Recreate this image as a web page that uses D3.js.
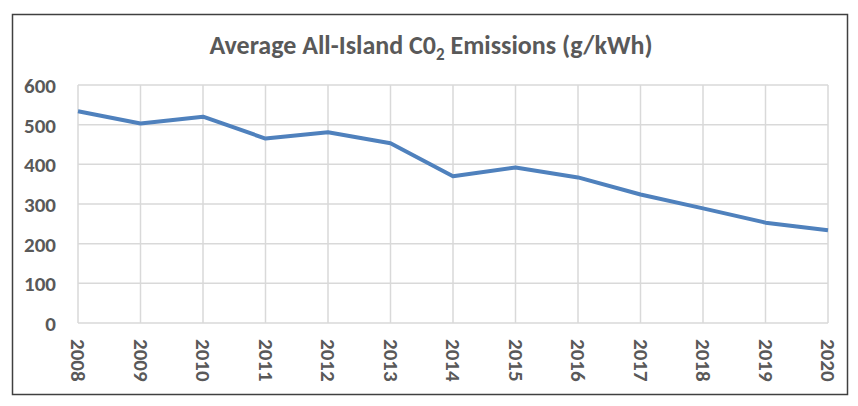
<!DOCTYPE html>
<html><head><meta charset="utf-8">
<script src="https://cdn.jsdelivr.net/npm/d3@7"></script>
<style>body{margin:0;background:#fff}svg{display:block}</style>
</head><body>
<svg id="c" width="858" height="406"></svg>
<script>
const years = ["2008","2009","2010","2011","2012","2013","2014","2015","2016","2017","2018","2019","2020"];
const emissions = [534, 503, 520, 465, 481, 453, 370, 392, 367, 324, 289, 253, 234];
const yTicks = [0, 100, 200, 300, 400, 500, 600];

const svg = d3.select("#c");
const W = 858, H = 406;
const m = {left: 78, right: 30, top: 85, bottom: 83};
const font = "Calibri, Carlito, 'Open Sans', sans-serif";
const txt = "#595959";

svg.append("rect").attr("x", 12.5).attr("y", 14.5).attr("width", 835).attr("height", 380)
  .attr("fill", "#fff").attr("stroke", "#404040").attr("stroke-width", 1.5);

const x = d3.scalePoint().domain(years).range([m.left, W - m.right]);
const y = d3.scaleLinear().domain([0, 600]).range([H - m.bottom, m.top]);

// gridlines
const g = svg.append("g");
g.selectAll(".hg").data(yTicks).join("line")
  .attr("x1", m.left).attr("x2", W - m.right)
  .attr("y1", d => y(d)).attr("y2", d => y(d))
  .attr("stroke", "#d9d9d9").attr("stroke-width", 1.5);
g.selectAll(".vg").data(years).join("line")
  .attr("x1", d => x(d)).attr("x2", d => x(d))
  .attr("y1", y(0)).attr("y2", y(600))
  .attr("stroke", "#d9d9d9").attr("stroke-width", 1.5);

// y axis
const ya = svg.append("g").attr("transform", `translate(${m.left},0)`)
  .call(d3.axisLeft(y).tickValues(yTicks).tickSize(0).tickPadding(22));
ya.select(".domain").remove();
ya.selectAll("text").attr("fill", txt).attr("font-family", font)
  .attr("font-weight", "bold").attr("font-size", 21).attr("dy", "0.35em");

// x axis
const xa = svg.append("g").attr("transform", `translate(0,${y(0)})`)
  .call(d3.axisBottom(x).tickSize(0));
xa.select(".domain").remove();
xa.selectAll("text").attr("fill", txt).attr("font-family", font)
  .attr("font-weight", "bold").attr("font-size", 21)
  .attr("transform", "translate(0,16) rotate(90)")
  .attr("text-anchor", "start").attr("x", 0).attr("y", 0).attr("dy", "0.35em");

// line
svg.append("path").datum(emissions)
  .attr("fill", "none").attr("stroke", "#4f81bd").attr("stroke-width", 4)
  .attr("stroke-linejoin", "round")
  .attr("d", d3.line().x((d, i) => x(years[i])).y(d => y(d)));

// title
const t = svg.append("text").attr("x", 431).attr("y", 54).attr("text-anchor", "middle")
  .attr("fill", txt).attr("font-family", font).attr("font-weight", "bold").attr("font-size", 26);
t.append("tspan").text("Average All-Island C0");
t.append("tspan").attr("font-size", 17).attr("dy", 6).text("2");
t.append("tspan").attr("dy", -6).text(" Emissions (g/kWh)");
</script>
</body></html>
